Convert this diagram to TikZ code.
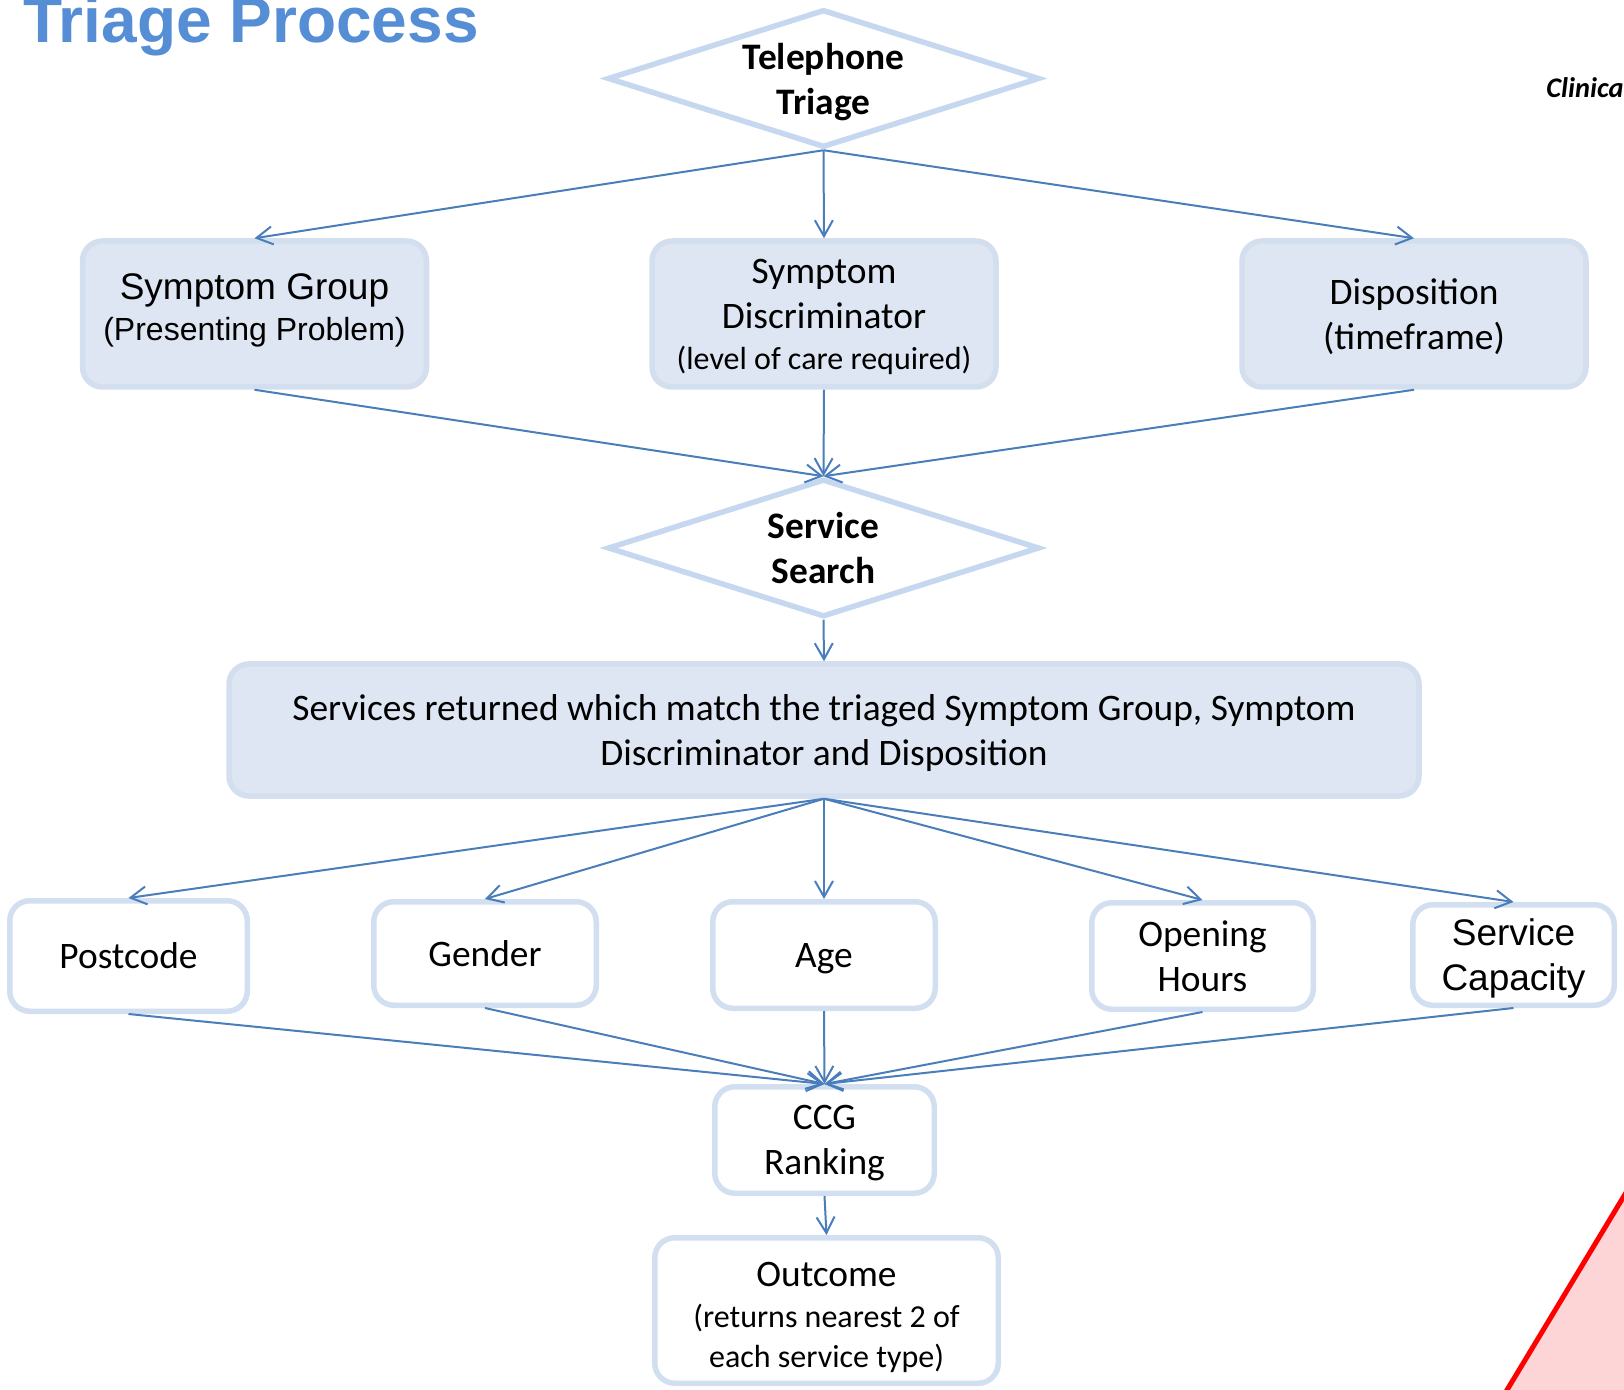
\documentclass[tikz,border=0pt]{standalone}
\usepackage{fontspec}
\setmainfont{Carlito}
\newfontfamily\arialfont{Liberation Sans}
\usetikzlibrary{shapes.geometric,arrows.meta}

\definecolor{linkblue}{HTML}{4A7EBB}
\definecolor{boxfill}{HTML}{DDE6F2}
\definecolor{boxline}{HTML}{D3DFEF}
\definecolor{whiteline}{HTML}{D2DFF0}
\definecolor{diamondline}{HTML}{C6D8EF}
\definecolor{titleblue}{HTML}{558ED5}
\definecolor{pinkfill}{HTML}{FDD5D7}

\newcommand{\normaltext}{\fontsize{18.7}{22.5}\selectfont}
\newcommand{\smalltext}{\fontsize{16}{20.5}\selectfont}

\tikzset{
    link/.style={draw=linkblue, line width=1pt, -{Straight Barb[length=8pt,width=9pt]}},
    shadedbox/.style={rectangle, rounded corners=10pt, draw=boxline, fill=boxfill,
        line width=2.75pt, align=center, text depth=0pt, font=\normaltext},
    whitebox/.style={rectangle, rounded corners=10pt, draw=whiteline, fill=white,
        line width=2.75pt, align=center, text depth=0pt, font=\normaltext},
    decision/.style={diamond, draw=diamondline, fill=white, line width=2.75pt,
        shape aspect=3.2, inner sep=0pt, minimum width=216pt, minimum height=69pt,
        align=center, text depth=0pt, font=\bfseries\normaltext},
}

\begin{document}
\begin{tikzpicture}[x=0.5pt,y=-0.5pt]
        \useasboundingbox (0,0) rectangle (1624,1390);

        \node[anchor=base west, inner sep=0pt, text=titleblue,
            font=\arialfont\bfseries\fontsize{32}{38}\selectfont] (title) at (23,43) {Triage Process};
        \node[anchor=base west, inner sep=0pt,
            font=\bfseries\itshape\fontsize{14.2}{17}\selectfont] (clinica) at (1546,98) {Clinica};

        \fill[pinkfill] (1507,1390) -- (1624,1196) -- (1624,1390) -- cycle;
        \draw[red, line width=2.5pt] (1501,1400) -- (1630,1186);

        \node[decision] (tel) at (823.5,78.5) {Telephone\\Triage};

        \node[shadedbox, minimum width=172pt, minimum height=73pt, font=\arialfont\fontsize{18.5}{20.5}\selectfont]
            (group) at (254.5,314) {Symptom Group\\{\arialfont\fontsize{16}{20.5}\selectfont(Presenting Problem)}\\[-13.5pt]\mbox{}};
        \node[shadedbox, minimum width=172pt, minimum height=73pt]
            (discr) at (824,314) {Symptom\\Discriminator\\[-2pt]{\smalltext(level of care required)}};
        \node[shadedbox, minimum width=172pt, minimum height=73pt]
            (dispo) at (1414,314) {Disposition\\(timeframe)};

        \node[decision] (search) at (823.5,548) {Service\\Search};

        \node[shadedbox, minimum width=595pt, minimum height=66pt] (services) at (824,730)
            {Services returned which match the triaged Symptom Group, Symptom\\Discriminator and Disposition};

        \node[whitebox, minimum width=118.75pt, minimum height=55.25pt] (postcode) at (128.5,956) {Postcode};
        \node[whitebox, minimum width=111.25pt, minimum height=51.75pt] (gender) at (485,953.5) {Gender};
        \node[whitebox, minimum width=111.25pt, minimum height=53.25pt] (age) at (824,955) {Age};
        \node[whitebox, minimum width=110.75pt, minimum height=53.25pt] (hours) at (1202.5,956) {Opening\\Hours};
        \node[whitebox, minimum width=100.75pt, minimum height=50.25pt, font=\arialfont\fontsize{18.5}{22.5}\selectfont]
            (capacity) at (1513.5,955) {Service\\Capacity};

        \node[whitebox, minimum width=109.75pt, minimum height=53.25pt] (ccg) at (824.5,1140) {CCG\\Ranking};
        \node[whitebox, minimum width=171.75pt, minimum height=72.75pt] (outcome) at (826.5,1310.5)
            {\mbox{}\\[-6pt]Outcome\\[-2pt]{\smalltext(returns nearest 2 of}\\[-2.5pt]{\smalltext each service type)}};

        \draw[link] (tel.south) -- (group.north);
        \draw[link] (tel.south) -- (discr.north);
        \draw[link] (tel.south) -- (dispo.north);

        \draw[link] (group.south) -- (search.north);
        \draw[link] (discr.south) -- (search.north);
        \draw[link] (dispo.south) -- (search.north);

        \draw[link] (search.south) -- (services.north);

        \foreach \b in {postcode,gender,age,hours,capacity} {
            \draw[link] (services.south) -- (\b.north);
            \draw[link] (\b.south) -- (ccg.north);
        }

        \draw[link] (ccg.south) -- (outcome.north);

    \end{tikzpicture}
\end{document}
